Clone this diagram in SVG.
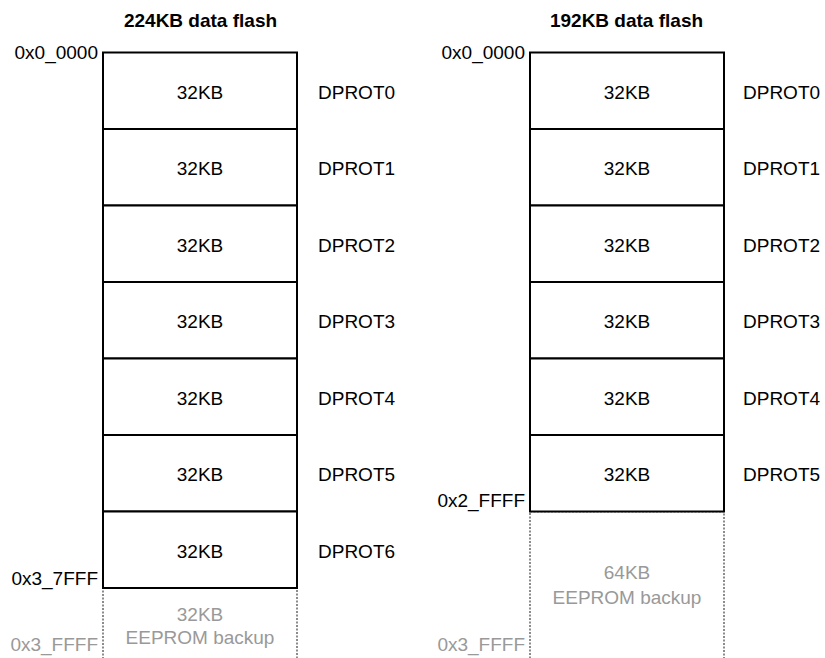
<svg xmlns="http://www.w3.org/2000/svg" width="825" height="658" viewBox="0 0 825 658">
<style>
text{font-family:"Liberation Sans",Arial,Helvetica,sans-serif;font-size:19px;fill:#000}
.title{font-weight:bold;text-anchor:middle}
.c{text-anchor:middle}
.addr{text-anchor:end}
.g{fill:#999}
.blk{fill:#fff;stroke:#000;stroke-width:2}
.dot{fill:none;stroke:#8c8c8c;stroke-width:2;stroke-dasharray:2 1.5}
</style>
<rect width="825" height="658" fill="#fff"/>
<g id="left-map">
<text class="title" x="200.5" y="27">224KB data flash</text>
<g id="L-eeprom"><rect class="dot" x="103" y="588" width="194" height="90"/>
<text class="c g" x="200" y="620.5">32KB</text><text class="c g" x="200" y="644">EEPROM backup</text></g>
<g id="L0"><rect class="blk" x="103" y="52.5" width="194" height="76.5"/><text class="c" x="200" y="98.5">32KB</text><text x="318" y="98.5">DPROT0</text></g>
<g id="L1"><rect class="blk" x="103" y="129" width="194" height="76.5"/><text class="c" x="200" y="175">32KB</text><text x="318" y="175">DPROT1</text></g>
<g id="L2"><rect class="blk" x="103" y="205.5" width="194" height="76.5"/><text class="c" x="200" y="251.5">32KB</text><text x="318" y="251.5">DPROT2</text></g>
<g id="L3"><rect class="blk" x="103" y="282" width="194" height="76.5"/><text class="c" x="200" y="328">32KB</text><text x="318" y="328">DPROT3</text></g>
<g id="L4"><rect class="blk" x="103" y="358.5" width="194" height="76.5"/><text class="c" x="200" y="404.5">32KB</text><text x="318" y="404.5">DPROT4</text></g>
<g id="L5"><rect class="blk" x="103" y="435" width="194" height="76.5"/><text class="c" x="200" y="481">32KB</text><text x="318" y="481">DPROT5</text></g>
<g id="L6"><rect class="blk" x="103" y="511.5" width="194" height="76.5"/><text class="c" x="200" y="557.5">32KB</text><text x="318" y="557.5">DPROT6</text></g>
<text class="addr" x="98" y="59">0x0_0000</text>
<text class="addr" x="98" y="585">0x3_7FFF</text>
<text class="addr g" x="98" y="651">0x3_FFFF</text>
</g>
<g id="right-map">
<text class="title" x="626.5" y="27">192KB data flash</text>
<g id="R-eeprom"><rect class="dot" x="530" y="511.5" width="194" height="170"/>
<text class="c g" x="627" y="579">64KB</text><text class="c g" x="627" y="603.5">EEPROM backup</text></g>
<g id="R0"><rect class="blk" x="530" y="52.5" width="194" height="76.5"/><text class="c" x="627" y="98.5">32KB</text><text x="743" y="98.5">DPROT0</text></g>
<g id="R1"><rect class="blk" x="530" y="129" width="194" height="76.5"/><text class="c" x="627" y="175">32KB</text><text x="743" y="175">DPROT1</text></g>
<g id="R2"><rect class="blk" x="530" y="205.5" width="194" height="76.5"/><text class="c" x="627" y="251.5">32KB</text><text x="743" y="251.5">DPROT2</text></g>
<g id="R3"><rect class="blk" x="530" y="282" width="194" height="76.5"/><text class="c" x="627" y="328">32KB</text><text x="743" y="328">DPROT3</text></g>
<g id="R4"><rect class="blk" x="530" y="358.5" width="194" height="76.5"/><text class="c" x="627" y="404.5">32KB</text><text x="743" y="404.5">DPROT4</text></g>
<g id="R5"><rect class="blk" x="530" y="435" width="194" height="76.5"/><text class="c" x="627" y="481">32KB</text><text x="743" y="481">DPROT5</text></g>
<text class="addr" x="525" y="59">0x0_0000</text>
<text class="addr" x="525" y="507">0x2_FFFF</text>
<text class="addr g" x="525" y="651">0x3_FFFF</text>
</g>
<g id="connectors"/>
</svg>
